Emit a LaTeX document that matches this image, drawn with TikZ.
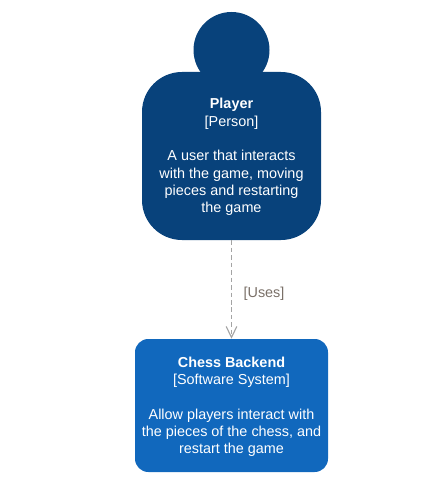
\documentclass[tikz,border=0pt]{standalone}
\usepackage{fontspec}
\setmainfont{Liberation Sans}
\usetikzlibrary{positioning,arrows.meta}
\definecolor{personblue}{HTML}{08427B}
\definecolor{systemblue}{HTML}{1168BD}
\definecolor{usesgray}{HTML}{A4A4A4}
\definecolor{labelgray}{HTML}{7A7068}
\newcommand{\topstrut}{\rule{0pt}{9.6pt}}

\tikzset{
	blockbox/.style={draw=none,text=white,align=center,font=\fontsize{10.8pt}{13pt}\selectfont,inner sep=0pt},
	usesline/.style={usesgray,dash pattern=on 3.4pt off 2.2pt,line width=0.85pt,-{Straight Barb[length=8.25pt,width=8pt]}}
}

\begin{document}
\begin{tikzpicture}[x=0.75pt,y=-0.75pt]
	\useasboundingbox (0,0) rectangle (448,488);
	
	\node[circle,minimum size=57pt,fill=personblue,inner sep=0pt] (Head) at (231.5,50) {};
	
	\node[blockbox,fill=personblue,rounded corners=30pt,minimum width=134.25pt,minimum height=126pt] (Player) at (231.5,156) {\topstrut\textbf{Player}\\{}[Person]\\[13pt]A user that interacts\\with the game, moving\\pieces and restarting\\the game};
	
	\node[blockbox,fill=systemblue,rounded corners=10pt,minimum width=144.75pt,minimum height=99.75pt] (Backend) at (231.5,405.5) {\topstrut\textbf{Chess Backend}\\{}[Software System]\\[13pt]Allow players interact with\\the pieces of the chess, and\\restart the game};
	
	\draw[usesline] (Player.south) -- (Backend.north);
	\node[text=labelgray,font=\fontsize{10.8pt}{13pt}\selectfont,inner sep=0pt] (Uses) at (264,293.5) {[Uses]};
	
\end{tikzpicture}
\end{document}
